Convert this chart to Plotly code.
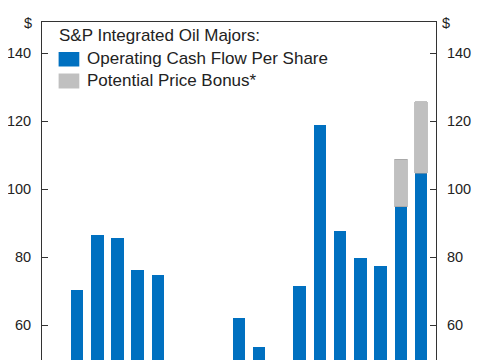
import plotly.graph_objects as go

years = [2010, 2011, 2012, 2013, 2014, 2015, 2016, 2017, 2018, 2019,
         2020, 2021, 2022, 2023, 2024, 2025, 2026, 2027]
ocf_per_share = [70.3, 86.4, 85.7, 76.2, 74.6, 45.0, 33.0, 44.0, 62.2, 53.6,
                 30.0, 71.6, 118.8, 87.6, 79.6, 77.3, 94.8, 104.7]
price_bonus = [None] * 16 + [14.0, 21.0]
y_ticks = [60, 80, 100, 120, 140]

legend_title = "S&P Integrated Oil Majors:"
name_ocf = "Operating Cash Flow Per Share"
name_bonus = "Potential Price Bonus*"

BLUE = "#0070C0"
GRAY = "#C0C0C0"
INK = "#222222"
FONT = "Liberation Sans, Arial, sans-serif"

OFF = 8  # page body margin
W, H = 477, 352
ML, MT, MB = 41.7 - OFF, 22 - OFF, 0
MR = W - (435.7 - OFF)
PW, PH = W - ML - MR, H - MT - MB


def px(x):  # screen px -> paper
    return (x - OFF - ML) / PW


def py(y):
    return (H - MB - (y - OFF)) / PH


fig = go.Figure()
fig.add_bar(x=years, y=ocf_per_share, name=name_ocf, marker_color=BLUE,
            marker_line_width=0, width=0.62, showlegend=False)
fig.add_bar(x=years, y=price_bonus, name=name_bonus, marker_color=GRAY,
            marker_line=dict(color="#9a9a9a", width=0.6), width=0.62,
            showlegend=False)
# invisible trace to activate right axis
fig.add_scatter(x=[years[0]], y=[y_ticks[0]], yaxis="y2", mode="markers",
                marker_opacity=0, showlegend=False, hoverinfo="skip")

yrange = [49.7, 149.2]
axis_common = dict(range=yrange, tickvals=y_ticks, ticks="inside", ticklen=6,
                   tickcolor="#333", tickwidth=1, showline=True, linecolor="#333",
                   linewidth=1, showgrid=False, zeroline=False, automargin=False,
                   tickfont=dict(size=14.5, color=INK, family=FONT),
                   ticklabelstandoff=7)
fig.update_layout(
    width=W, height=H, margin=dict(l=ML, r=MR, t=MT, b=MB, pad=0),
    barmode="stack", plot_bgcolor="white", paper_bgcolor="white",
    font=dict(family=FONT, color=INK),
    xaxis=dict(range=[2008.27, 2027.74], side="top", showline=True,
               linecolor="#333", linewidth=1, showticklabels=False,
               ticks="", showgrid=False, zeroline=False, automargin=False),
    yaxis=dict(**axis_common),
    yaxis2=dict(**axis_common, overlaying="y", side="right"),
)

# legend drawn manually
fig.add_shape(type="rect", xref="paper", yref="paper",
              x0=px(58.3), x1=px(79), y0=py(66.5), y1=py(52),
              fillcolor=BLUE, line_width=0)
fig.add_shape(type="rect", xref="paper", yref="paper",
              x0=px(58.3), x1=px(79), y0=py(88.5), y1=py(73.5),
              fillcolor=GRAY, line_width=0)


def note(text, x, y, xanchor="left", size=17):
    fig.add_annotation(text=text, xref="paper", yref="paper", x=px(x), y=py(y),
                       xanchor=xanchor, yanchor="middle", showarrow=False,
                       font=dict(size=size, color=INK, family=FONT))


note(legend_title, 56.5, 35.5)
note(name_ocf, 84.5, 58.5)
note(name_bonus, 84.5, 80.5)
note("$", 33.5, 23.5, xanchor="right", size=14.5)
note("$", 440, 23.5, xanchor="left", size=14.5)

fig.write_html("out.html")
